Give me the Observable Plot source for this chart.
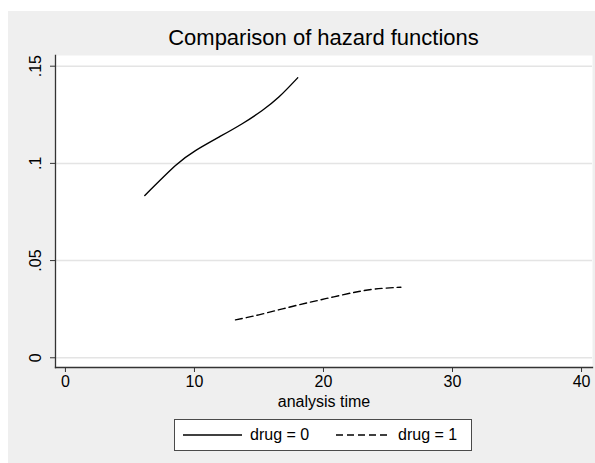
<!DOCTYPE html>
<html>
<head>
<meta charset="utf-8">
<script src="https://cdn.jsdelivr.net/npm/d3@7"></script>
<script src="https://cdn.jsdelivr.net/npm/@observablehq/plot@0.6"></script>
<style>
  html, body { margin: 0; padding: 0; background: #ffffff; }
  body { width: 595px; height: 463px; position: relative; overflow: hidden;
         font-family: "Liberation Sans", Arial, Helvetica, sans-serif; }
  #panel { position: absolute; left: 8px; top: 11px; width: 587px; height: 452px; background: #efefef; }
  #chart { position: absolute; left: 0; top: 0; }
  #chart svg { background: transparent; overflow: visible; }
  #title { position: absolute; left: 55px; width: 537px; top: 25px; text-align: center;
           font-size: 22px; line-height: 26px; color: #000; }
  #legend { position: absolute; left: 174px; top: 419px; width: 296px; height: 30px;
            background: #ffffff; border: 1px solid #4a4a4a; }
  #legend svg { position: absolute; left: 0; top: 0; }
  .lt { position: absolute; top: 5px; font-size: 16px; line-height: 20px; color: #000; }
</style>
</head>
<body>
<div id="panel"></div>
<div id="chart"></div>
<div id="title"></div>
<div id="legend"></div>
<script>
// ---- data ----
const titleText = "Comparison of hazard functions";
const xLabel = "analysis time";
const seriesNames = ["drug = 0", "drug = 1"];
const xTicks = [0, 10, 20, 30, 40];
const yTicks = [0, 0.05, 0.1, 0.15];
const yTickLabels = ["0", ".05", ".1", ".15"];

const drug0Time = [6.15, 8.53, 10.08, 11.89, 13.7, 15.25, 16.54, 18.0];
const drug0Hazard = [0.0835, 0.0989, 0.1066, 0.1135, 0.1204, 0.1272, 0.1341, 0.144];
const drug1Time = [13.18, 14.99, 17.57, 20.16, 22.74, 24.55, 26.0];
const drug1Hazard = [0.0195, 0.0221, 0.0264, 0.0304, 0.0341, 0.0357, 0.0363];

const rows0 = drug0Time.map((t, i) => ({t, h: drug0Hazard[i]}));
const rows1 = drug1Time.map((t, i) => ({t, h: drug1Hazard[i]}));
const yTickRows = yTicks.map((v, i) => ({v, label: yTickLabels[i]}));

const xDomain = [-0.77, 40.85];
const yDomain = [-0.005, 0.1555];
const font = "Liberation Sans, Arial, Helvetica, sans-serif";

document.getElementById("title").textContent = titleText;

const plot = Plot.plot({
  width: 595,
  height: 463,
  marginLeft: 55,
  marginRight: 3,
  marginTop: 55,
  marginBottom: 96,
  style: {background: "transparent", fontFamily: font, fontSize: "16px", color: "#000"},
  x: {domain: xDomain},
  y: {domain: yDomain},
  marks: [
    Plot.frame({fill: "#ffffff", stroke: null}),
    Plot.gridY(yTicks, {stroke: "#e4e4e4", strokeOpacity: 1, strokeWidth: 1.5}),
    Plot.axisX({ticks: xTicks, tickSize: 5, tickPadding: 3, fontSize: 16, stroke: "#333",
                label: xLabel, labelAnchor: "center", labelArrow: "none", labelOffset: 39}),
    Plot.axisY({ticks: yTicks, tickSize: 5, tickFormat: () => "", stroke: "#333", label: null}),
    Plot.text(yTickRows, {x: xDomain[0], y: "v", text: "label", rotate: -90, dx: -20,
                          textAnchor: "middle", lineAnchor: "middle", fontSize: 16, fill: "#000"}),
    Plot.frame({anchor: "left", stroke: "#333", strokeWidth: 1.3}),
    Plot.frame({anchor: "bottom", stroke: "#333", strokeWidth: 1.3}),
    Plot.line(rows0, {x: "t", y: "h", stroke: "#000", strokeWidth: 1.4, curve: "natural"}),
    Plot.line(rows1, {x: "t", y: "h", stroke: "#000", strokeWidth: 1.4, curve: "natural",
                      strokeDasharray: "7,4"})
  ]
});
document.getElementById("chart").appendChild(plot);

// legend
const legend = document.getElementById("legend");
const ns = "http://www.w3.org/2000/svg";
const lsvg = document.createElementNS(ns, "svg");
lsvg.setAttribute("width", 296);
lsvg.setAttribute("height", 30);
const samples = [{x1: 8, x2: 67, dash: null}, {x1: 161, x2: 216, dash: "7,4"}];
samples.forEach(s => {
  const ln = document.createElementNS(ns, "line");
  ln.setAttribute("x1", s.x1); ln.setAttribute("x2", s.x2);
  ln.setAttribute("y1", 15); ln.setAttribute("y2", 15);
  ln.setAttribute("stroke", "#000"); ln.setAttribute("stroke-width", 1.4);
  if (s.dash) ln.setAttribute("stroke-dasharray", s.dash);
  lsvg.appendChild(ln);
});
legend.appendChild(lsvg);
[{left: 75, text: seriesNames[0]}, {left: 223, text: seriesNames[1]}].forEach(o => {
  const d = document.createElement("div");
  d.className = "lt";
  d.style.left = o.left + "px";
  d.textContent = o.text;
  legend.appendChild(d);
});
</script>
</body>
</html>
